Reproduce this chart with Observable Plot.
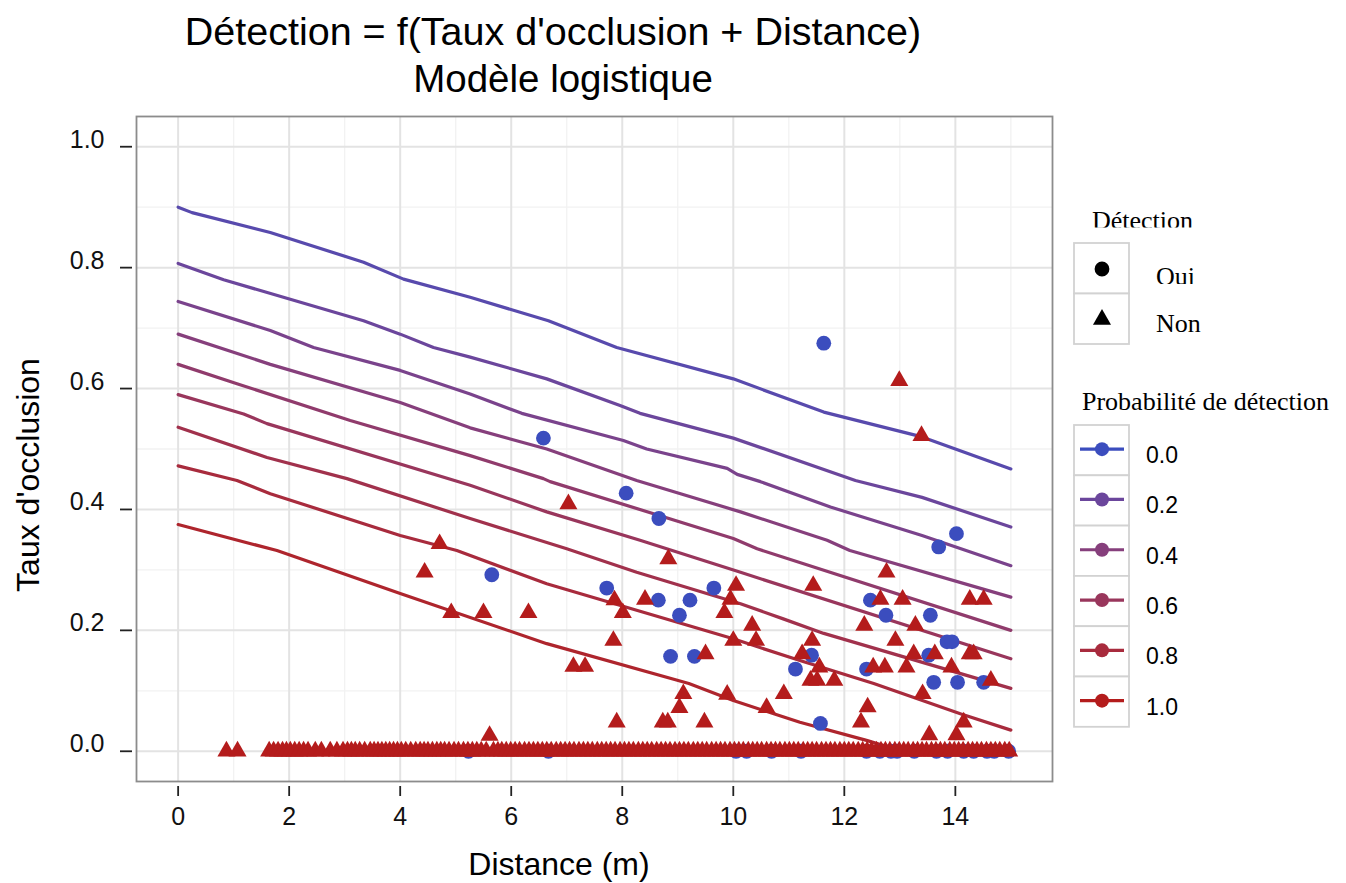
<!DOCTYPE html>
<html>
<head>
<meta charset="utf-8">
<script src="https://cdn.jsdelivr.net/npm/d3@7"></script>
<script src="https://cdn.jsdelivr.net/npm/@observablehq/plot@0.6"></script>
<style>
  html, body { margin: 0; padding: 0; background: #fff; }
  #chart { position: relative; width: 1346px; height: 883px; overflow: hidden; }
  #chart svg { position: absolute; left: 0; top: 0; }
</style>
</head>
<body>
<div id="chart"></div>
<script>
// Contour levels of the fitted detection probability
const levels = [0.1, 0.2, 0.3, 0.4, 0.5, 0.6, 0.7, 0.8, 0.9];

// Iso-probability curves: [distance (m), occlusion rate]
const contourPaths = [
  [[0,0.900],[0.25,0.891],[1.66,0.858],[3.34,0.809],[4.06,0.781],[5.26,0.751],[6.67,0.712],[7.90,0.668],[10.0,0.616],[11.63,0.561],[13.40,0.520],[15.0,0.467]],
  [[0,0.807],[0.82,0.780],[3.34,0.712],[4.0,0.690],[4.6,0.668],[5.26,0.652],[6.64,0.616],[7.96,0.572],[8.32,0.559],[10.0,0.518],[12.2,0.448],[13.4,0.420],[15.0,0.371]],
  [[0,0.744],[1.66,0.696],[2.44,0.668],[4.0,0.630],[5.26,0.591],[6.19,0.559],[8.02,0.514],[8.44,0.500],[9.89,0.468],[10.07,0.458],[10.49,0.446],[11.75,0.404],[13.4,0.357],[15.0,0.307]],
  [[0,0.690],[1.66,0.640],[4.0,0.577],[5.26,0.535],[6.64,0.500],[8.26,0.448],[10.13,0.396],[11.69,0.349],[12.1,0.332],[15.0,0.255]],
  [[0,0.640],[1.06,0.608],[3.1,0.547],[5.26,0.489],[6.58,0.451],[6.7,0.446],[10.0,0.352],[10.43,0.335],[15.0,0.200]],
  [[0,0.590],[1.18,0.558],[1.6,0.542],[5.26,0.440],[6.64,0.396],[8.32,0.349],[10.13,0.296],[15.0,0.153]],
  [[0,0.536],[1.6,0.486],[3.04,0.451],[5.26,0.385],[7.0,0.335],[8.26,0.296],[10.13,0.244],[10.9,0.219],[11.63,0.195],[15.0,0.104]],
  [[0,0.472],[1.06,0.448],[1.66,0.426],[4.0,0.357],[5.02,0.332],[6.64,0.277],[10.0,0.186],[11.2,0.150],[12.53,0.112],[14.09,0.062],[15.0,0.035]],
  [[0,0.375],[1.78,0.332],[4.0,0.261],[6.64,0.178],[9.2,0.112],[10.0,0.084],[10.73,0.062],[11.2,0.048],[12.4,0.018],[12.9,0.004]]
];

// Observations, detected ("Oui"): [distance, occlusion]
const ouiPoints = [
  [11.63,0.675],[6.58,0.518],[8.07,0.427],[8.66,0.385],[5.65,0.292],[7.72,0.270],[9.65,0.270],
  [8.65,0.250],[9.22,0.250],[9.03,0.225],[8.87,0.157],[9.30,0.157],[14.02,0.360],[13.70,0.338],
  [12.47,0.250],[12.75,0.225],[13.55,0.225],[13.85,0.181],[13.94,0.181],[13.52,0.159],[11.41,0.159],
  [11.12,0.136],[12.40,0.136],[13.61,0.114],[14.04,0.114],[14.51,0.114],[11.57,0.046]
];
// Detected with no occlusion: distances
const ouiZeroDist = [5.23, 6.67, 10.05, 10.24, 10.69, 11.22, 12.40, 12.64, 12.84, 12.95, 13.26, 13.66, 13.86, 14.15, 14.33, 14.57, 14.70, 14.96];

// Observations, not detected ("Non"): [distance, occlusion]
const nonPoints = [
  [12.99,0.613],[13.39,0.522],[7.03,0.409],[4.71,0.343],[4.44,0.296],[8.83,0.318],[12.76,0.296],
  [4.92,0.229],[5.50,0.229],[6.31,0.229],[7.86,0.250],[8.01,0.229],[7.84,0.183],[8.41,0.251],
  [9.95,0.251],[10.05,0.274],[9.84,0.229],[11.44,0.274],[12.65,0.251],[13.05,0.251],[14.26,0.251],
  [14.51,0.251],[10.34,0.208],[12.36,0.208],[13.28,0.208],[10.0,0.183],[10.41,0.183],[11.42,0.183],
  [12.92,0.183],[9.50,0.161],[11.24,0.161],[13.25,0.161],[13.63,0.161],[14.26,0.161],[14.33,0.161],
  [7.12,0.140],[7.33,0.140],[11.55,0.139],[12.52,0.139],[12.73,0.139],[13.12,0.139],[13.93,0.139],
  [11.39,0.117],[11.51,0.117],[11.82,0.117],[14.64,0.117],[9.10,0.095],[9.89,0.094],[10.91,0.095],
  [13.41,0.095],[9.03,0.072],[10.60,0.072],[12.42,0.073],[7.90,0.048],[8.73,0.048],[8.82,0.048],
  [9.48,0.048],[12.30,0.048],[14.15,0.048],[5.61,0.026],[13.53,0.027],[14.02,0.027]
];
// Not detected with no occlusion: distances
const nonZeroDist = [
  0.87, 1.07, 1.64, 1.72, 1.80, 1.88, 1.95, 2.02, 2.10, 2.18, 2.26, 2.34, 2.47, 2.58, 2.74, 2.86, 2.97,
  3.05, 3.12, 3.19, 3.27, 3.36, 3.46, 3.53, 3.60, 3.67, 3.74, 3.81, 3.88, 3.95, 4.02, 4.10, 4.19, 4.28,
  4.36, 4.43, 4.50, 4.58, 4.66, 4.73, 4.80, 4.88, 4.97, 5.05, 5.14, 5.22, 5.30, 5.38, 5.46, 5.55, 5.68,
  5.76, 5.83, 5.91, 5.99, 6.07, 6.15, 6.24, 6.32, 6.40, 6.48, 6.56, 6.64, 6.72, 6.81, 6.89, 6.97, 7.05,
  7.13, 7.22, 7.30, 7.38, 7.46, 7.55, 7.63, 7.71, 7.79, 7.87, 7.96, 8.04, 8.12, 8.20, 8.29, 8.37, 8.45,
  8.53, 8.62, 8.70, 8.78, 8.86, 8.95, 9.03, 9.11, 9.19, 9.28, 9.36, 9.44, 9.52, 9.61, 9.69, 9.77, 9.85,
  9.94, 10.02, 10.10, 10.18, 10.27, 10.35, 10.43, 10.51, 10.60, 10.68, 10.76, 10.84, 10.93, 11.01,
  11.09, 11.17, 11.26, 11.34, 11.42, 11.50, 11.59, 11.67, 11.75, 11.83, 11.92, 12.00, 12.08, 12.16,
  12.25, 12.33, 12.41, 12.49, 12.58, 12.66, 12.74, 12.82, 12.91, 12.99, 13.07, 13.15, 13.24, 13.32,
  13.40, 13.48, 13.57, 13.65, 13.73, 13.81, 13.90, 13.98, 14.06, 14.14, 14.23, 14.31, 14.39, 14.47,
  14.56, 14.64, 14.72, 14.80, 14.89, 14.97
];

// Axis ticks and legend entries
const xTicks = [0, 2, 4, 6, 8, 10, 12, 14];
const xMinor = [1, 3, 5, 7, 9, 11, 13, 15];
const yTicks = [0, 0.2, 0.4, 0.6, 0.8, 1.0];
const yMinor = [0.1, 0.3, 0.5, 0.7, 0.9];
const legendLevels = [0, 0.2, 0.4, 0.6, 0.8, 1.0];
const detectionLabels = ["Oui", "Non"];

const title = "Détection = f(Taux d'occlusion + Distance)";
const subtitle = "Modèle logistique";
const xLabel = "Distance (m)";
const yLabel = "Taux d'occlusion";

// Colour ramp: low probability blue -> high probability red
const BLUE = "#3b4dbe", RED = "#b41c1c";
const ramp = d3.interpolateLab(BLUE, RED);

const lineData = contourPaths.flatMap((path, i) =>
  path.map(([dist, occ]) => ({dist, occ, level: levels[i]})));
const oui = [
  ...ouiZeroDist.map(d => ({dist: d, occ: 0})),
  ...ouiPoints.map(([dist, occ]) => ({dist, occ}))
];
const non = [
  ...nonZeroDist.map(d => ({dist: d, occ: 0})),
  ...nonPoints.map(([dist, occ]) => ({dist, occ}))
];

const SANS = "'Liberation Sans', Arial, Helvetica, sans-serif";
const SERIF = "'Liberation Serif', 'Times New Roman', serif";

const chart = Plot.plot({
  width: 1346,
  height: 883,
  marginLeft: 136,
  marginRight: 294,
  marginTop: 116,
  marginBottom: 102,
  style: {fontFamily: SANS, background: "#fff", color: "#111"},
  x: {domain: [-0.75, 15.75]},
  y: {domain: [-0.05, 1.05]},
  marks: [
    Plot.gridX(xMinor, {stroke: "#f2f2f2", strokeOpacity: 1, strokeWidth: 1.3}),
    Plot.gridY(yMinor, {stroke: "#f2f2f2", strokeOpacity: 1, strokeWidth: 1.3}),
    Plot.gridX(xTicks, {stroke: "#e3e3e3", strokeOpacity: 1, strokeWidth: 2}),
    Plot.gridY(yTicks, {stroke: "#e3e3e3", strokeOpacity: 1, strokeWidth: 2}),
    Plot.line(lineData, {x: "dist", y: "occ", z: "level", stroke: d => ramp(d.level), strokeWidth: 3.2, curve: "linear"}),
    Plot.dot(oui, {x: "dist", y: "occ", r: 7.4, symbol: "circle", fill: BLUE, stroke: "none"}),
    Plot.dot(non, {x: "dist", y: "occ", r: 6.7, symbol: "triangle", fill: RED, stroke: "none"}),
    Plot.frame({stroke: "#8c8c8c", strokeWidth: 1.8}),
    Plot.axisX(xTicks, {tickSize: 10, dy: 5, strokeWidth: 1.8, stroke: "#222", fill: "none", label: null}),
    Plot.axisY(yTicks, {tickSize: 12, dx: -4, strokeWidth: 1.8, stroke: "#222", fill: "none", label: null}),
    Plot.text(xTicks, {x: d => d, text: d => String(d), frameAnchor: "bottom", dy: 43, fontSize: 25, fill: "#111"}),
    Plot.text(yTicks, {y: d => d, text: d => d.toFixed(1), frameAnchor: "left", dx: -32, dy: -7, textAnchor: "end", fontSize: 25, fill: "#111"})
  ]
});
document.getElementById("chart").appendChild(chart);

// Titles, axis titles and legends drawn on an overlay
const svg = d3.select("#chart").append("svg")
  .attr("width", 1346).attr("height", 883)
  .style("pointer-events", "none");

svg.append("text").attr("x", 553).attr("y", 45).attr("text-anchor", "middle")
  .attr("font-family", SANS).attr("font-size", 39.5).attr("fill", "#000").text(title);
svg.append("text").attr("x", 563).attr("y", 92).attr("text-anchor", "middle")
  .attr("font-family", SANS).attr("font-size", 38.5).attr("fill", "#000").text(subtitle);

svg.append("text").attr("x", 559).attr("y", 875).attr("text-anchor", "middle")
  .attr("font-family", SANS).attr("font-size", 32).attr("fill", "#000").text(xLabel);
svg.append("text").attr("transform", "translate(39,475) rotate(-90)").attr("text-anchor", "middle")
  .attr("font-family", SANS).attr("font-size", 32).attr("fill", "#000").text(yLabel);

// Legend: detection shape
const defs = svg.append("defs");
defs.append("clipPath").attr("id", "clipTitle").append("rect")
  .attr("x", 1080).attr("y", 190).attr("width", 200).attr("height", 37.5);
defs.append("clipPath").attr("id", "clipOui").append("rect")
  .attr("x", 1140).attr("y", 250).attr("width", 100).attr("height", 34);

svg.append("text").attr("x", 1092).attr("y", 229).attr("clip-path", "url(#clipTitle)")
  .attr("font-family", SERIF).attr("font-size", 26).attr("fill", "#000").text("Détection");

const keyX = 1074, keyW = 55, shapeTop = 243, shapeRow = 50.5;
detectionLabels.forEach((lab, i) => {
  const y0 = shapeTop + i * shapeRow;
  svg.append("rect").attr("x", keyX).attr("y", y0).attr("width", keyW).attr("height", shapeRow)
    .attr("fill", "#fff").attr("stroke", "#d2d2d2").attr("stroke-width", 1.8);
  const sym = i === 0 ? d3.symbolCircle : d3.symbolTriangle;
  const size = i === 0 ? Math.PI * 7.4 * 7.4 : Math.PI * 6.7 * 6.7;
  svg.append("path").attr("d", d3.symbol(sym, size)())
    .attr("transform", `translate(${keyX + 28},${y0 + 26})`).attr("fill", "#000");
  const t = svg.append("text").attr("x", 1156).attr("y", y0 + (i === 0 ? 41.5 : 38))
    .attr("font-family", SERIF).attr("font-size", 26).attr("fill", "#000").text(lab);
  if (i === 0) t.attr("clip-path", "url(#clipOui)");
});

// Legend: probability colour
svg.append("text").attr("x", 1082).attr("y", 410)
  .attr("font-family", SERIF).attr("font-size", 26).attr("fill", "#000").text("Probabilité de détection");
const probTop = 425, probRow = 50.3;
legendLevels.forEach((lv, i) => {
  const y0 = probTop + i * probRow, cy = y0 + probRow / 2 - 1;
  svg.append("rect").attr("x", keyX).attr("y", y0).attr("width", keyW).attr("height", probRow)
    .attr("fill", "#fff").attr("stroke", "#d2d2d2").attr("stroke-width", 1.8);
  svg.append("line").attr("x1", 1080).attr("x2", 1124).attr("y1", cy).attr("y2", cy)
    .attr("stroke", ramp(lv)).attr("stroke-width", 3.2);
  svg.append("circle").attr("cx", 1102).attr("cy", cy).attr("r", 7).attr("fill", ramp(lv));
  svg.append("text").attr("x", 1146).attr("y", cy + 14)
    .attr("font-family", SANS).attr("font-size", 23).attr("fill", "#000").text(lv.toFixed(1));
});
</script>
</body>
</html>
